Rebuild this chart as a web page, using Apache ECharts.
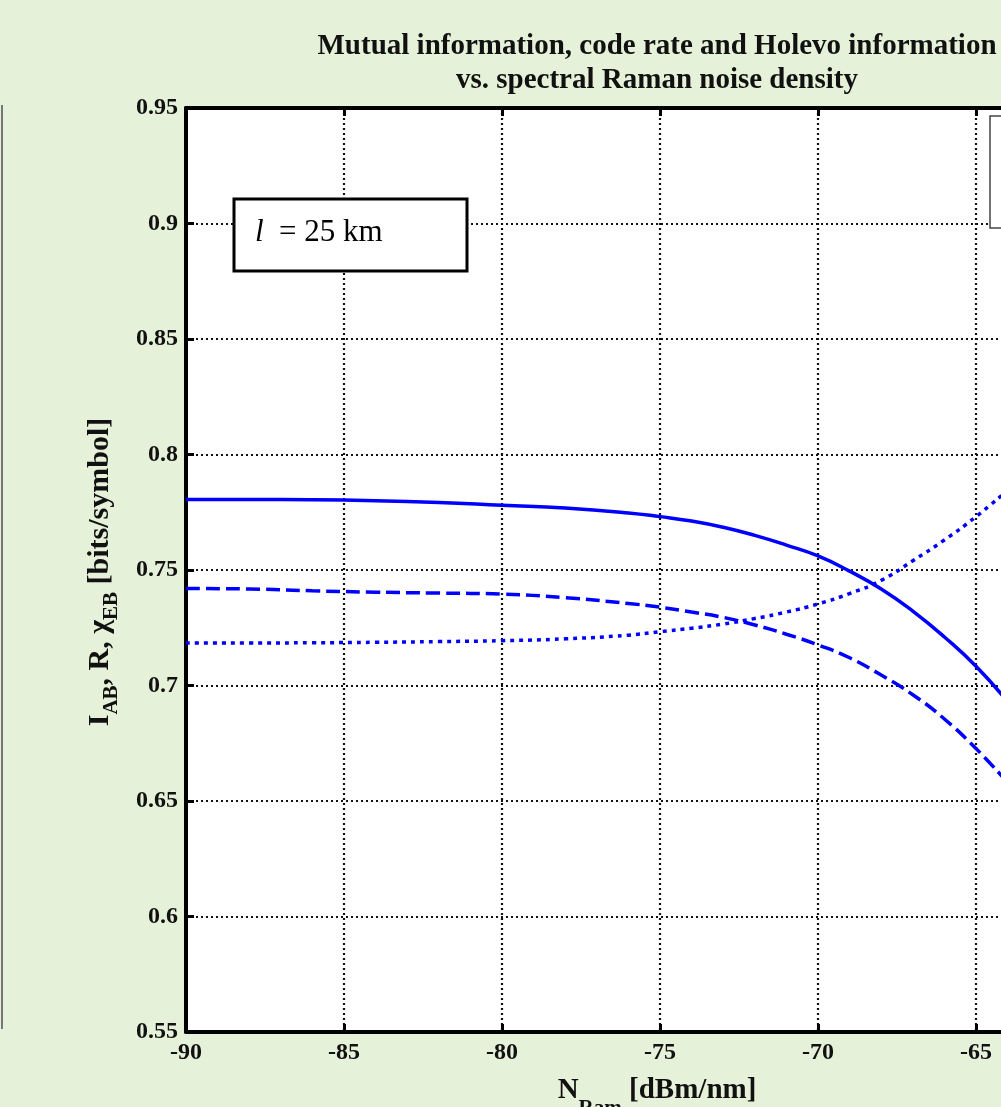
<!DOCTYPE html>
<html>
<head>
<meta charset="utf-8">
<title>Mutual information vs. spectral Raman noise density</title>
<script src="https://cdn.jsdelivr.net/npm/echarts@6/dist/echarts.min.js"></script>
<style>
  html, body { margin: 0; padding: 0; background: #e5f1d8; }
  #chart { width: 1001px; height: 1107px; }
</style>
</head>
<body>
<div id="chart"></div>
<script>
// N_Ram [dBm/nm]
const noiseDensity = [-90, -88, -86, -84, -82, -80, -78, -76, -75, -74, -73, -72, -71, -70, -69, -68, -67, -66, -65, -64];
// I_AB (solid)
const mutualInfo = [0.7805, 0.7805, 0.7804, 0.7800, 0.7792, 0.7780, 0.7768, 0.7747, 0.7731, 0.7712, 0.7685, 0.7650, 0.7608, 0.7561, 0.7495, 0.7418, 0.7322, 0.7210, 0.7083, 0.6930];
// R (dashed)
const codeRate = [0.7420, 0.7418, 0.7410, 0.7404, 0.7400, 0.7396, 0.7380, 0.7355, 0.7339, 0.7318, 0.7295, 0.7262, 0.7222, 0.7176, 0.7120, 0.7045, 0.6960, 0.6855, 0.6727, 0.6580];
// chi_EB (dotted)
const holevoInfo = [0.7184, 0.7184, 0.7185, 0.7187, 0.7190, 0.7194, 0.7202, 0.7218, 0.7233, 0.7248, 0.7266, 0.7290, 0.7318, 0.7353, 0.7398, 0.7455, 0.7540, 0.7630, 0.7731, 0.7845];

const serif = "'Liberation Serif', 'Times New Roman', serif";
const chart = echarts.init(document.getElementById("chart"));

const pairs = ys => noiseDensity.map((x, i) => [x, ys[i]]);
const lineSeries = (name, ys, type) => ({
  name,
  type: "line",
  data: pairs(ys),
  smooth: true,
  showSymbol: false,
  lineStyle: { color: "#0000ff", width: 3.5, type }
});

const dotted = { color: "#111", width: 2.2, type: [2, 3] };
const tickLabel = { color: "#111", fontFamily: serif, fontWeight: "bold", fontSize: 24 };

chart.setOption({
  backgroundColor: "#e5f1d8",
  animation: false,
  grid: {
    left: 186, top: 108, width: 948, height: 924,
    outerBoundsMode: "none", containLabel: false,
    show: true, backgroundColor: "#fff", borderWidth: 0
  },
  xAxis: [
    {
      type: "value", min: -90, max: -60, interval: 5,
      axisLine: { lineStyle: { color: "#000", width: 4 } },
      axisTick: { inside: true, length: 8, lineStyle: { color: "#000", width: 3 } },
      axisLabel: { ...tickLabel, margin: 9 },
      splitLine: { show: true, lineStyle: dotted }
    },
    {
      type: "value", position: "top", min: -90, max: -60, interval: 5,
      axisLine: { show: true, lineStyle: { color: "#000", width: 4 } },
      axisTick: { inside: true, length: 8, lineStyle: { color: "#000", width: 3 } },
      axisLabel: { show: false },
      splitLine: { show: false }
    }
  ],
  yAxis: {
    type: "value", min: 0.55, max: 0.95, interval: 0.05,
    axisLine: { show: true, lineStyle: { color: "#000", width: 4 } },
    axisTick: { show: true, inside: true, length: 8, lineStyle: { color: "#000", width: 3 } },
    axisLabel: { ...tickLabel, margin: 8 },
    splitLine: { show: true, lineStyle: dotted }
  },
  series: [
    lineSeries("I_AB", mutualInfo, "solid"),
    lineSeries("R", codeRate, [14, 6]),
    lineSeries("chi_EB", holevoInfo, [4, 5])
  ],
  graphic: [
    // edge of the neighbouring panel
    { type: "line", shape: { x1: 2, y1: 105, x2: 2, y2: 1029 }, style: { stroke: "#777", lineWidth: 2 } },
    // legend box (cut off)
    { type: "rect", shape: { x: 990, y: 116, width: 100, height: 112 }, style: { fill: "#fff", stroke: "#444", lineWidth: 1.5 }, z: 10 },
    // distance label
    { type: "rect", shape: { x: 234, y: 199, width: 233, height: 72 }, style: { fill: "#fff", stroke: "#000", lineWidth: 3 }, z: 10 },
    {
      type: "text", x: 255, y: 233, z: 11,
      style: {
        text: "{i|l}{r|  = 25 km}",
        textAlign: "left", textVerticalAlign: "middle", align: "left", verticalAlign: "middle",
        rich: {
          i: { fontFamily: serif, fontStyle: "italic", fontSize: 31, fill: "#000" },
          r: { fontFamily: serif, fontSize: 31, fill: "#000" }
        }
      }
    },
    // title
    {
      type: "text", x: 657, y: 47, z: 11,
      style: {
        text: "Mutual information, code rate and Holevo information",
        fontFamily: serif, fontWeight: "bold", fontSize: 29, fill: "#111",
        textAlign: "center", textVerticalAlign: "middle", align: "center", verticalAlign: "middle"
      }
    },
    {
      type: "text", x: 657, y: 81, z: 11,
      style: {
        text: "vs. spectral Raman noise density",
        fontFamily: serif, fontWeight: "bold", fontSize: 29, fill: "#111",
        textAlign: "center", textVerticalAlign: "middle", align: "center", verticalAlign: "middle"
      }
    },
    // x axis title
    {
      type: "text", x: 657, y: 1092, z: 11,
      style: {
        text: "{m|N}{s|Ram}{m| [dBm/nm]}",
        textAlign: "center", textVerticalAlign: "middle", align: "center", verticalAlign: "middle",
        rich: {
          m: { fontFamily: serif, fontWeight: "bold", fontSize: 29, fill: "#111", lineHeight: 32, verticalAlign: "top" },
          s: { fontFamily: serif, fontWeight: "bold", fontSize: 21, fill: "#111", lineHeight: 21, padding: [22, 0, 0, 0], verticalAlign: "top" }
        }
      }
    },
    // y axis title
    {
      type: "text", x: 101, y: 572, rotation: Math.PI / 2, z: 11,
      style: {
        text: "{m|I}{s|AB}{m|, R, χ}{s|EB}{m| [bits/symbol]}",
        textAlign: "center", textVerticalAlign: "middle", align: "center", verticalAlign: "middle",
        rich: {
          m: { fontFamily: serif, fontWeight: "bold", fontSize: 30, fill: "#111", lineHeight: 32, verticalAlign: "top" },
          s: { fontFamily: serif, fontWeight: "bold", fontSize: 21, fill: "#111", lineHeight: 21, padding: [16, 0, 0, 0], verticalAlign: "top" }
        }
      }
    }
  ]
});
</script>
</body>
</html>
